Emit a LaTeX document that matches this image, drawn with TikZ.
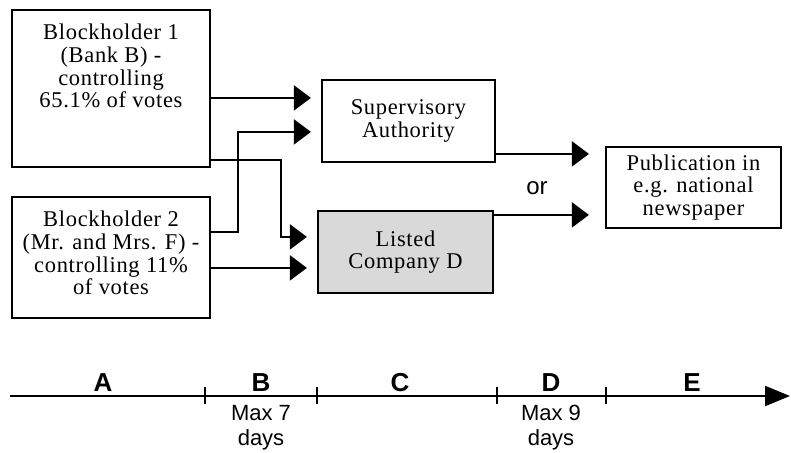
\documentclass[tikz,border=0pt]{standalone}
\usepackage{fontspec}
\setmainfont{Liberation Serif}[LetterSpace=3]
\setsansfont{Liberation Sans}
\usetikzlibrary{arrows.meta,positioning,calc}
\definecolor{CompanyGray}{HTML}{D9D9D9}

\begin{document}
\begin{tikzpicture}[x=1pt,y=-1pt]
    \tikzset{partybox/.style={draw,line width=2.2pt,inner sep=0pt},
      boxtext/.style={align=center,inner sep=0pt,font=\fontsize{22.5}{22.7}\selectfont},
      flow/.style={-{Triangle[length=17pt,width=25pt]},line width=2.2pt},
      phase/.style={anchor=base,inner sep=0pt,font=\sffamily\bfseries\fontsize{26}{28}\selectfont},
      limit/.style={anchor=north,align=center,inner sep=0pt,font=\sffamily\fontsize{22}{25}\selectfont}}
    \useasboundingbox (0,0) rectangle (791,452);
    % parties
    \node[partybox,minimum width=198pt,minimum height=157pt] (bh1) at (111,88.5) {};
    \node[boxtext,anchor=north] (bh1 text) at ($(bh1.north)+(0,15)$)
      {Blockholder 1\\(Bank B) -\\controlling\\65.1\% of votes};
    \node[partybox,minimum width=198pt,minimum height=121pt] (bh2) at (111,257.5) {};
    \node[boxtext,anchor=north] (bh2 text) at ($(bh2.north)+(0,15)$)
      {Blockholder 2\\(Mr. and Mrs. F) -\\controlling 11\%\\of votes};
    \node[partybox,boxtext,minimum width=173pt,minimum height=82pt] (auth) at (408.5,121)
      {Supervisory\\Authority};
    \node[partybox,boxtext,fill=CompanyGray,minimum width=175pt,minimum height=82pt] (comp) at (405.5,252)
      {Listed\\Company D};
    \node[partybox,boxtext,minimum width=175pt,minimum height=81pt] (pub) at (693.5,187.5)
      {Publication in\\e.g. national\\newspaper};
    % notifications
    \coordinate (auth in1) at ($(auth.north west)+(-10,19)$);
    \coordinate (auth in2) at ($(auth.north west)+(-10,53)$);
    \coordinate (comp in1) at ($(comp.north west)+(-10,27)$);
    \coordinate (comp in2) at ($(comp.north west)+(-10,58)$);
    \coordinate (pub in1) at ($(pub.north west)+(-16,8)$);
    \coordinate (pub in2) at ($(pub.north west)+(-16,69)$);
    \draw[flow] (bh1.east |- auth in1) -- (auth in1);
    \draw[flow] ($(bh2.north east)+(0,36)$) -- ++(27,0) |- (auth in2);
    \draw[flow] ($(bh1.south east)+(0,-8)$) -- ++(70,0) |- (comp in1);
    \draw[flow] (bh2.east |- comp in2) -- (comp in2);
    \draw[flow] (auth.east |- pub in1) -- (pub in1);
    \draw[flow] (comp.east |- pub in2) -- (pub in2);
    \node[font=\sffamily\fontsize{24}{26}\selectfont] (or) at (537,188) {or};
    % time line
    \coordinate (tstart) at (10,396);
    \coordinate (tend) at (790,396);
    \draw[-{Triangle[length=25pt,width=20pt]},line width=2.2pt] (tstart) -- (tend);
    \foreach \x in {205,317,497,606}
      \draw[line width=1.8pt] (\x,387) -- (\x,404);
    \foreach \lab/\x in {A/103,B/261,C/400,D/551,E/692}
      \node[phase] (phase \lab) at (\x,391) {\lab};
    \node[limit] (limit B) at (261,405) {Max 7\\days};
    \node[limit] (limit D) at (551,405) {Max 9\\days};
\end{tikzpicture}
\end{document}
